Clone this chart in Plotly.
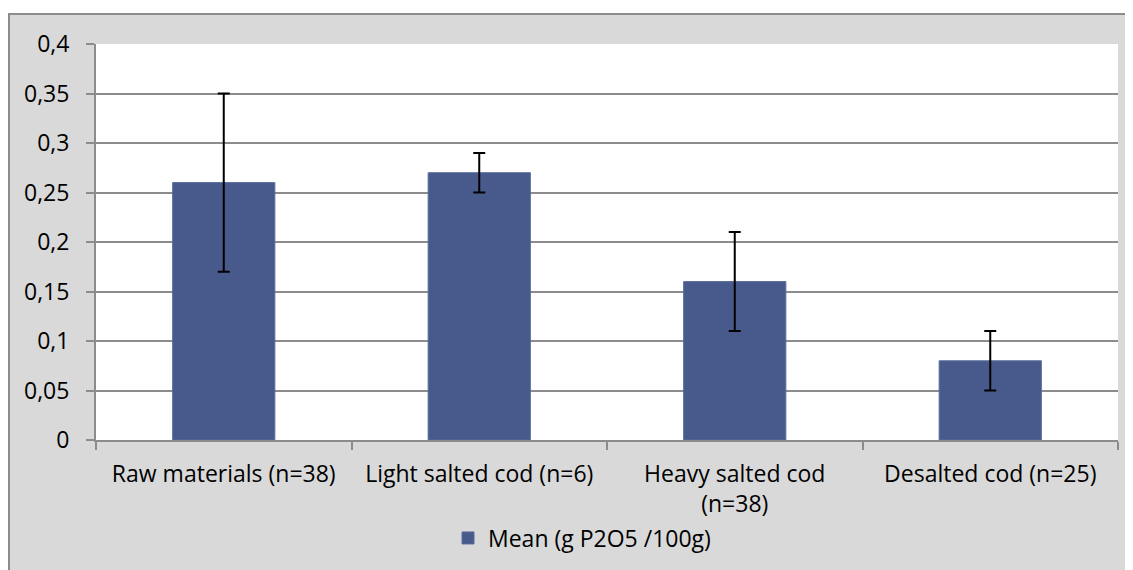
import plotly.graph_objects as go

categories = ["Raw materials (n=38)", "Light salted cod (n=6)", "Heavy salted cod<br>(n=38)", "Desalted cod (n=25)"]
means = [0.26, 0.27, 0.16, 0.08]
errors = [0.09, 0.02, 0.05, 0.03]
series_name = "Mean (g P2O5 /100g)"
y_ticks = [0, 0.05, 0.1, 0.15, 0.2, 0.25, 0.3, 0.35, 0.4]
y_tick_labels = ["0", "0,05", "0,1", "0,15", "0,2", "0,25", "0,3", "0,35", "0,4"]

OFF = 8  # page body margin
W, H = 1133 - OFF, 570 - OFF
# target pixel positions in the screenshot
PL, PR, PT, PB = 96, 1118, 44, 441
L, T = PL - OFF, PT - OFF
R = 1133 - PR
B = 570 - PB
pw, ph = PR - PL, PB - PT

def px_x(p):
    return (p - PL) / pw

def px_y(p):
    return (PB - p) / ph

FONT = "Open Sans"
FS = 23

fig = go.Figure()
fig.add_trace(go.Bar(
    x=categories, y=means, name=series_name,
    marker=dict(color="#475a8b", line=dict(color="#5a6c9c", width=1)),
    width=0.4,
    error_y=dict(type="data", array=errors, visible=True, color="black", thickness=2, width=6),
))

fig.update_layout(
    width=W, height=H,
    margin=dict(l=L, r=R, t=T, b=B),
    paper_bgcolor="white",
    plot_bgcolor="white",
    separators=",.",
    font=dict(family=FONT, size=FS, color="black"),
    showlegend=True,
    legend=dict(orientation="h", x=px_x(582), xanchor="center", y=px_y(538), yanchor="middle",
                bgcolor="rgba(0,0,0,0)", font=dict(size=FS, family=FONT)),
    shapes=[
        dict(type="rect", xref="paper", yref="paper", x0=px_x(9), x1=px_x(1140), y0=px_y(600), y1=px_y(14),
             fillcolor="#d9d9d9", line=dict(color="#8c8c8c", width=2), layer="below"),
        dict(type="rect", xref="paper", yref="paper", x0=0, x1=1, y0=0, y1=1,
             fillcolor="white", line=dict(width=0), layer="below"),
    ],
    xaxis=dict(
        showgrid=False, showline=True, linecolor="#8c8c8c", linewidth=2,
        ticks="outside", ticklen=8, tickcolor="#8c8c8c", tickwidth=2,
        tickson="boundaries", tickfont=dict(size=FS, family=FONT),
        ticklabelstandoff=12,
    ),
    yaxis=dict(
        range=[0, 0.4], tickvals=y_ticks, ticktext=y_tick_labels,
        showgrid=True, gridcolor="#8c8c8c", gridwidth=2,
        showline=True, linecolor="#8c8c8c", linewidth=2,
        ticks="outside", ticklen=8, tickcolor="#8c8c8c", tickwidth=2,
        zeroline=False, tickfont=dict(size=FS, family=FONT),
        ticklabelstandoff=12,
    ),
    bargap=0.6,
)

fig.write_html("out.html")
